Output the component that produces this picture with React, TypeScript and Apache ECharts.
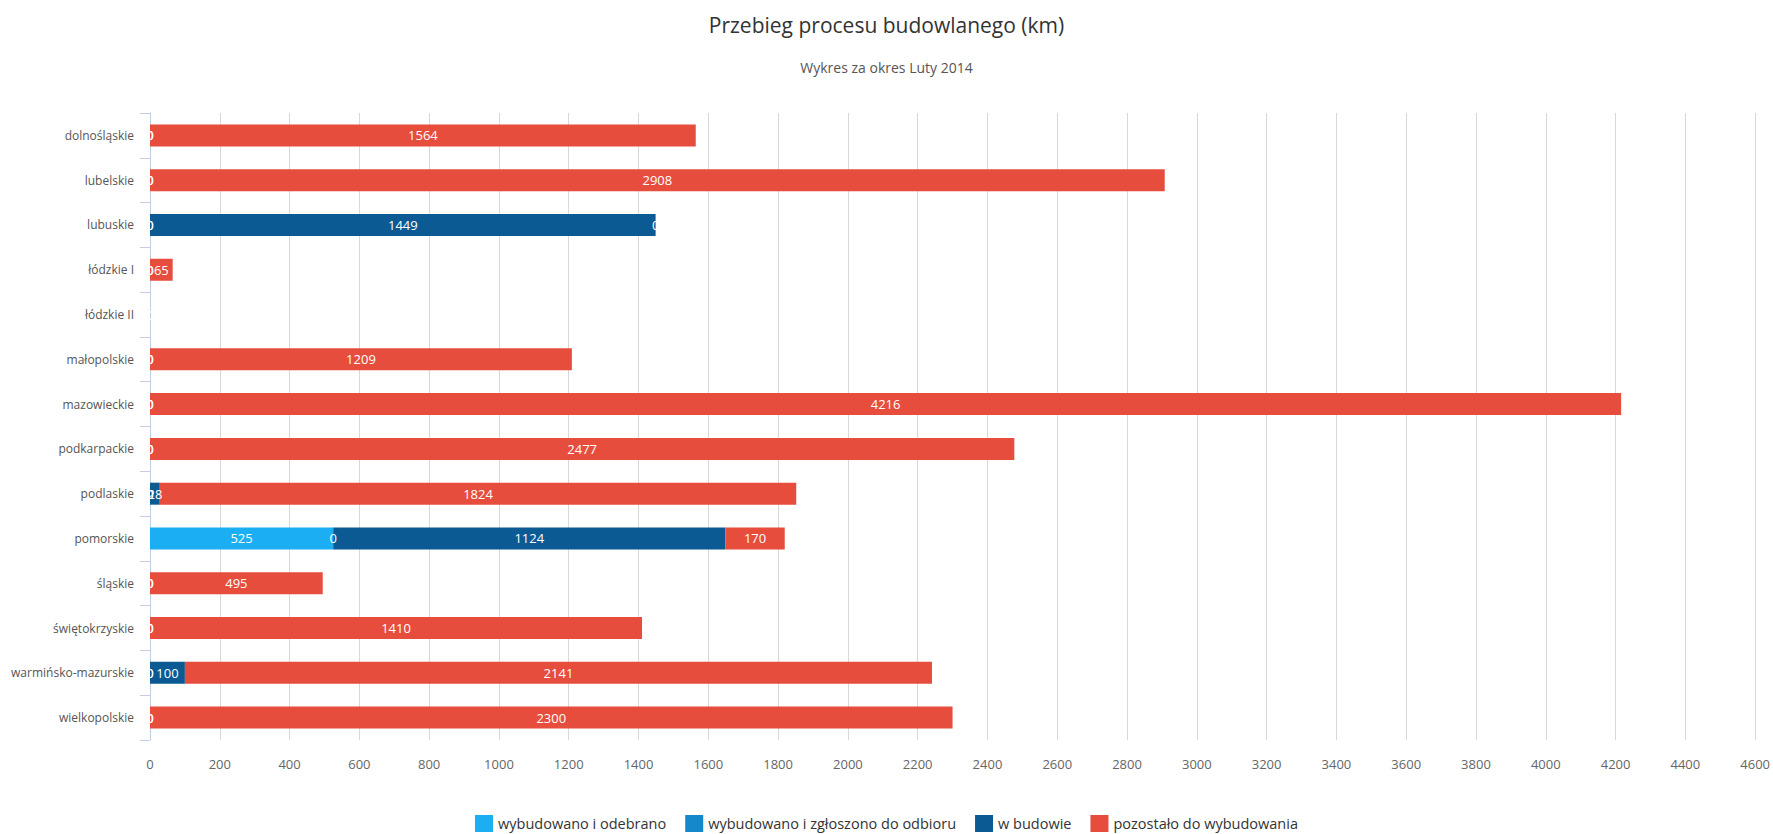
import React, { useEffect, useRef } from "react";
import * as echarts from "echarts";

const categories = [
  "dolnośląskie",
  "lubelskie",
  "lubuskie",
  "łódzkie I",
  "łódzkie II",
  "małopolskie",
  "mazowieckie",
  "podkarpackie",
  "podlaskie",
  "pomorskie",
  "śląskie",
  "świętokrzyskie",
  "warmińsko-mazurskie",
  "wielkopolskie",
];

const seriesNames = [
  "wybudowano i odebrano",
  "wybudowano i zgłoszono do odbioru",
  "w budowie",
  "pozostało do wybudowania",
];

const odebrano = [0, 0, 0, 0, 0, 0, 0, 0, 0, 525, 0, 0, 0, 0];
const zgloszono = [0, 0, 0, 0, 0, 0, 0, 0, 0, 0, 0, 0, 0, 0];
const wBudowie = [0, 0, 1449, 0, 0, 0, 0, 0, 28, 1124, 0, 0, 100, 0];
const pozostalo = [1564, 2908, 0, 65, 0, 1209, 4216, 2477, 1824, 170, 495, 1410, 2141, 2300];

const colors = ["#1BAEF3", "#1587CB", "#0B5A93", "#E64D3D"];

const FONT = "'Open Sans', 'DejaVu Sans', sans-serif";

export default function App() {
  const ref = useRef<HTMLDivElement>(null);

  useEffect(() => {
    if (!ref.current) return;
    const chart = echarts.init(ref.current, null, { renderer: "svg" });
    const dataSets = [odebrano, zgloszono, wBudowie, pozostalo];
    chart.setOption({
      animation: false,
      backgroundColor: "#ffffff",
      color: colors,
      textStyle: { fontFamily: FONT },
      title: [
        {
          text: "Przebieg procesu budowlanego (km)",
          left: "center",
          top: 9,
          textStyle: { fontFamily: FONT, fontSize: 21, fontWeight: "normal", color: "#333333" },
        },
        {
          text: "Wykres za okres Luty 2014",
          left: "center",
          top: 55,
          textStyle: { fontFamily: FONT, fontSize: 14, fontWeight: "normal", color: "#555555" },
        },
      ],
      legend: {
        bottom: 2,
        left: "center",
        padding: 0,
        itemWidth: 18,
        itemHeight: 17,
        itemGap: 19,
        icon: "rect",
        textStyle: { fontFamily: FONT, fontSize: 14.5, color: "#333333" },
        data: seriesNames,
      },
      grid: { left: 150, right: 13, top: 113, bottom: 94, containLabel: false },
      xAxis: {
        type: "value",
        min: 0,
        max: 4600,
        interval: 200,
        axisLine: { show: false },
        axisTick: { show: false },
        splitLine: { show: true, lineStyle: { color: "#D8D8D8", width: 1 } },
        axisLabel: {
          fontFamily: FONT,
          fontSize: 13,
          color: "#666666",
          margin: 17,
          formatter: (v: number) => String(v),
        },
      },
      yAxis: {
        type: "category",
        data: categories,
        inverse: true,
        axisLine: { show: true, lineStyle: { color: "#C0D0E0", width: 1 } },
        axisTick: { show: true, length: 10, lineStyle: { color: "#C0D0E0" } },
        axisLabel: { fontFamily: FONT, fontSize: 12, color: "#555555", margin: 16 },
        splitLine: { show: false },
      },
      series: seriesNames.map((name, i) => ({
        name,
        type: "bar",
        stack: "total",
        barWidth: 22,
        data: dataSets[i],
        itemStyle: { color: colors[i] },
        label: {
          show: true,
          position: "inside",
          color: "#ffffff",
          fontFamily: FONT,
          fontSize: 13,
          formatter: (p: any) => String(p.value),
        },
        emphasis: { disabled: true },
      })),
    });
    return () => chart.dispose();
  }, []);

  return (
    <div
      ref={ref}
      style={{ position: "fixed", left: 0, top: 0, width: 1773, height: 834 }}
    />
  );
}
